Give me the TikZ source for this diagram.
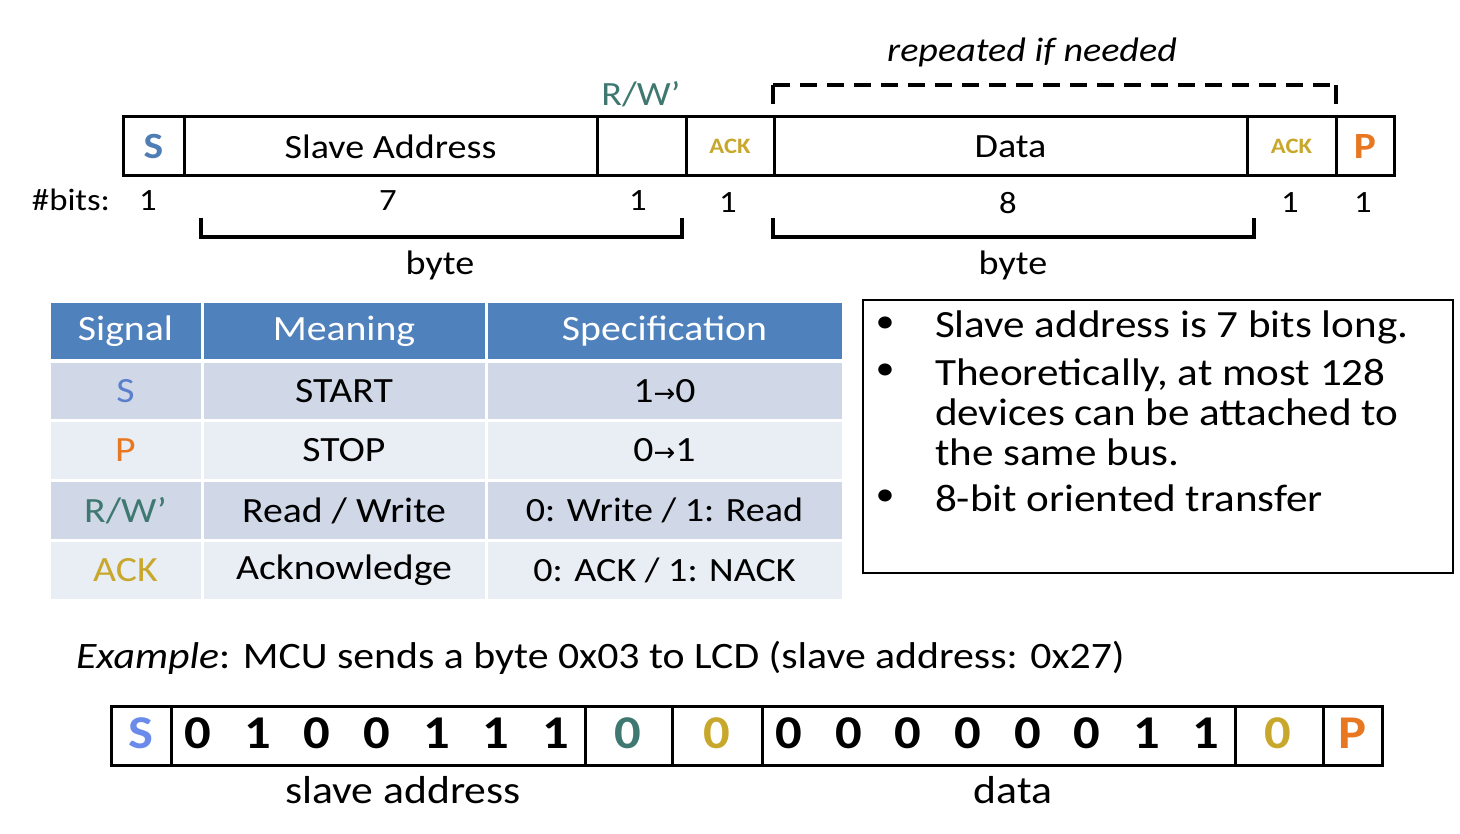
\documentclass[tikz,border=0pt]{standalone}
\usepackage{fontspec}
\setmainfont{Carlito}[FakeStretch=1.12]
\newfontfamily\arrowfont{DejaVu Sans}
\definecolor{sblue}{HTML}{4F7DB5}
\definecolor{sblue2}{HTML}{6B8BEA}
\definecolor{tblue}{HTML}{5A80CC}
\definecolor{rwteal}{HTML}{3E7870}
\definecolor{ackgold}{HTML}{C8A82C}
\definecolor{porange}{HTML}{E87722}
\definecolor{hdrblue}{HTML}{4F81BD}
\definecolor{rowa}{HTML}{D0D8E8}
\definecolor{rowb}{HTML}{E9EDF4}
\newcommand{\fs}[1]{\fontsize{#1}{#1}\selectfont}
\newcommand{\rarr}{{\arrowfont\fontsize{26}{26}\selectfont →}}
\begin{document}
\begin{tikzpicture}[x=1pt,y=-1pt,
  every node/.style={inner sep=0pt, outer sep=0pt},
  cell/.style={draw, line width=3pt, minimum height=59pt},
  tcell/.style={draw=white, line width=3pt, text=black},
  txt/.style={font=\fs{34}},
  ttxt/.style={font=\fs{35.5}},
  stxt/.style={font=\fs{34}},
  bx/.style={line width=3.5pt},
  blt/.style={font=\fs{38.5}, anchor=base west},
  dig/.style={font=\fs{47}\bfseries}]
\useasboundingbox (0,0) rectangle (1460,834);

% ---------- top frame ----------
\node[cell, minimum width=61pt, font=\fs{37}\bfseries, text=sblue] (tS) at (153.5,146.5) {S};
\node[cell, minimum width=413pt, txt] (tSA) at (390.5,146.5) {Slave Address};
\node[cell, minimum width=89pt] (tRW) at (641.5,146.5) {};
\node[cell, minimum width=88pt, font=\fs{22}\bfseries, text=ackgold] (tA1) at (730,146.5) {ACK};
\node[cell, minimum width=473pt, txt] (tD) at (1010.5,146.5) {Data};
\node[cell, minimum width=89pt, font=\fs{22}\bfseries, text=ackgold] (tA2) at (1291.5,146.5) {ACK};
\node[cell, minimum width=58pt, font=\fs{37}\bfseries, text=porange] (tP) at (1365,146.5) {P};

\node[txt, text=rwteal] (rwlab) at (641,94) {R/W’};
\node[font=\fs{34}\itshape] (rep) at (1032,52) {repeated if needed};
\draw[bx] (773,104) -- (773,85);
\draw[bx] (1336,104) -- (1336,85);
\draw[bx, dash pattern=on 17pt off 10pt] (773,85) -- (1336,85);

% bits
\node[font=\fs{31}] (bitslab) at (71,200) {\#bits:};
\node[font=\fs{31}] (n1) at (148,201) {1};
\node[font=\fs{31}] (n2) at (388,201) {7};
\node[font=\fs{31}] (n3) at (638,201) {1};
\node[font=\fs{31}] (n4) at (728,203) {1};
\node[font=\fs{31}] (n5) at (1008,203) {8};
\node[font=\fs{31}] (n6) at (1290,203) {1};
\node[font=\fs{31}] (n7) at (1363,203) {1};

\draw[bx] (201,218) -- (201,237) -- (682,237) -- (682,218);
\draw[bx] (773,218) -- (773,237) -- (1254,237) -- (1254,218);
\node[txt] (byte1) at (440,265) {byte};
\node[txt] (byte2) at (1013,265) {byte};

% ---------- table ----------
\node[tcell, fill=hdrblue, minimum width=153pt, minimum height=59pt, text=white, ttxt] (h1) at (125.5,331) {Signal};
\node[tcell, fill=hdrblue, minimum width=284pt, minimum height=59pt, text=white, ttxt] (h2) at (344,331) {Meaning};
\node[tcell, fill=hdrblue, minimum width=357pt, minimum height=59pt, text=white, ttxt] (h3) at (664.5,331) {Specification};

\node[tcell, fill=rowa, minimum width=153pt, minimum height=59pt, ttxt, text=tblue] (r1a) at (125.5,391) {S};
\node[tcell, fill=rowa, minimum width=284pt, minimum height=59pt, ttxt] (r1b) at (344,391) {START};
\node[tcell, fill=rowa, minimum width=357pt, minimum height=59pt, ttxt] (r1c) at (664.5,391) {1\rarr0};

\node[tcell, fill=rowb, minimum width=153pt, minimum height=60pt, ttxt, text=porange] (r2a) at (125.5,450.5) {P};
\node[tcell, fill=rowb, minimum width=284pt, minimum height=60pt, ttxt] (r2b) at (344,450.5) {STOP};
\node[tcell, fill=rowb, minimum width=357pt, minimum height=60pt, ttxt] (r2c) at (664.5,450.5) {0\rarr1};

\node[tcell, fill=rowa, minimum width=153pt, minimum height=60pt, ttxt, text=rwteal] (r3a) at (125.5,510.5) {R/W’};
\node[tcell, fill=rowa, minimum width=284pt, minimum height=60pt, ttxt] (r3b) at (344,510.5) {Read / Write};
\node[tcell, fill=rowa, minimum width=357pt, minimum height=60pt, stxt] (r3c) at (664.5,510.5) {0: Write / 1: Read};

\node[tcell, fill=rowb, minimum width=153pt, minimum height=60pt, ttxt, text=ackgold] (r4a) at (125.5,570.5) {ACK};
\node[tcell, fill=rowb, minimum width=284pt, minimum height=60pt, ttxt] (r4b) at (344,570.5) {Acknowledge};
\node[tcell, fill=rowb, minimum width=357pt, minimum height=60pt, stxt] (r4c) at (664.5,570.5) {0: ACK / 1: NACK};

% ---------- notes box ----------
\node[draw, line width=2.5pt, minimum width=590pt, minimum height=273pt] (notes) at (1158,436.5) {};
\node[font=\fs{34}] (bul1) at (885,325) {•};
\node[font=\fs{34}] (bul2) at (885,372) {•};
\node[font=\fs{34}] (bul3) at (885,498) {•};
\node[blt] (it1) at (935,338) {Slave address is 7 bits long.};
\node[blt] (it2a) at (935,385) {Theoretically, at most 128};
\node[blt] (it2b) at (935,425) {devices can be attached to};
\node[blt] (it2c) at (935,465) {the same bus.};
\node[blt] (it3) at (935,511) {8-bit oriented transfer};

% ---------- example ----------
\node[font=\fs{37.3}, anchor=base west] (ex) at (76,668) {\textit{Example}: MCU sends a byte 0x03 to LCD (slave address: 0x27)};

\node[cell, minimum width=60pt] (bS) at (141,735.5) {};
\node[cell, minimum width=414pt] (bSA) at (378,735.5) {};
\node[cell, minimum width=87pt] (bRW) at (628.5,735.5) {};
\node[cell, minimum width=90pt] (bA1) at (717,735.5) {};
\node[cell, minimum width=473pt] (bD) at (998.5,735.5) {};
\node[cell, minimum width=88pt] (bA2) at (1279,735.5) {};
\node[cell, minimum width=59pt] (bP) at (1352.5,735.5) {};

\node[dig, text=sblue2] (dS) at (141,733) {S};
\foreach \v [count=\i] in {0,1,0,0,1,1,1}
  \node[dig] (da\i) at ({198+59.6*(\i-1)},733) {\v};
\node[dig, text=rwteal] (dRW) at (628,733) {0};
\node[dig, text=ackgold] (dA1) at (717,733) {0};
\foreach \v [count=\i] in {0,0,0,0,0,0,1,1}
  \node[dig] (dd\i) at ({789+59.6*(\i-1)},733) {\v};
\node[dig, text=ackgold] (dA2) at (1278,733) {0};
\node[dig, text=porange] (dP) at (1352.5,733) {P};

\node[font=\fs{39}] (lsa) at (403,790) {slave address};
\node[font=\fs{39}] (ldata) at (1013,790) {data};
\end{tikzpicture}
\end{document}
